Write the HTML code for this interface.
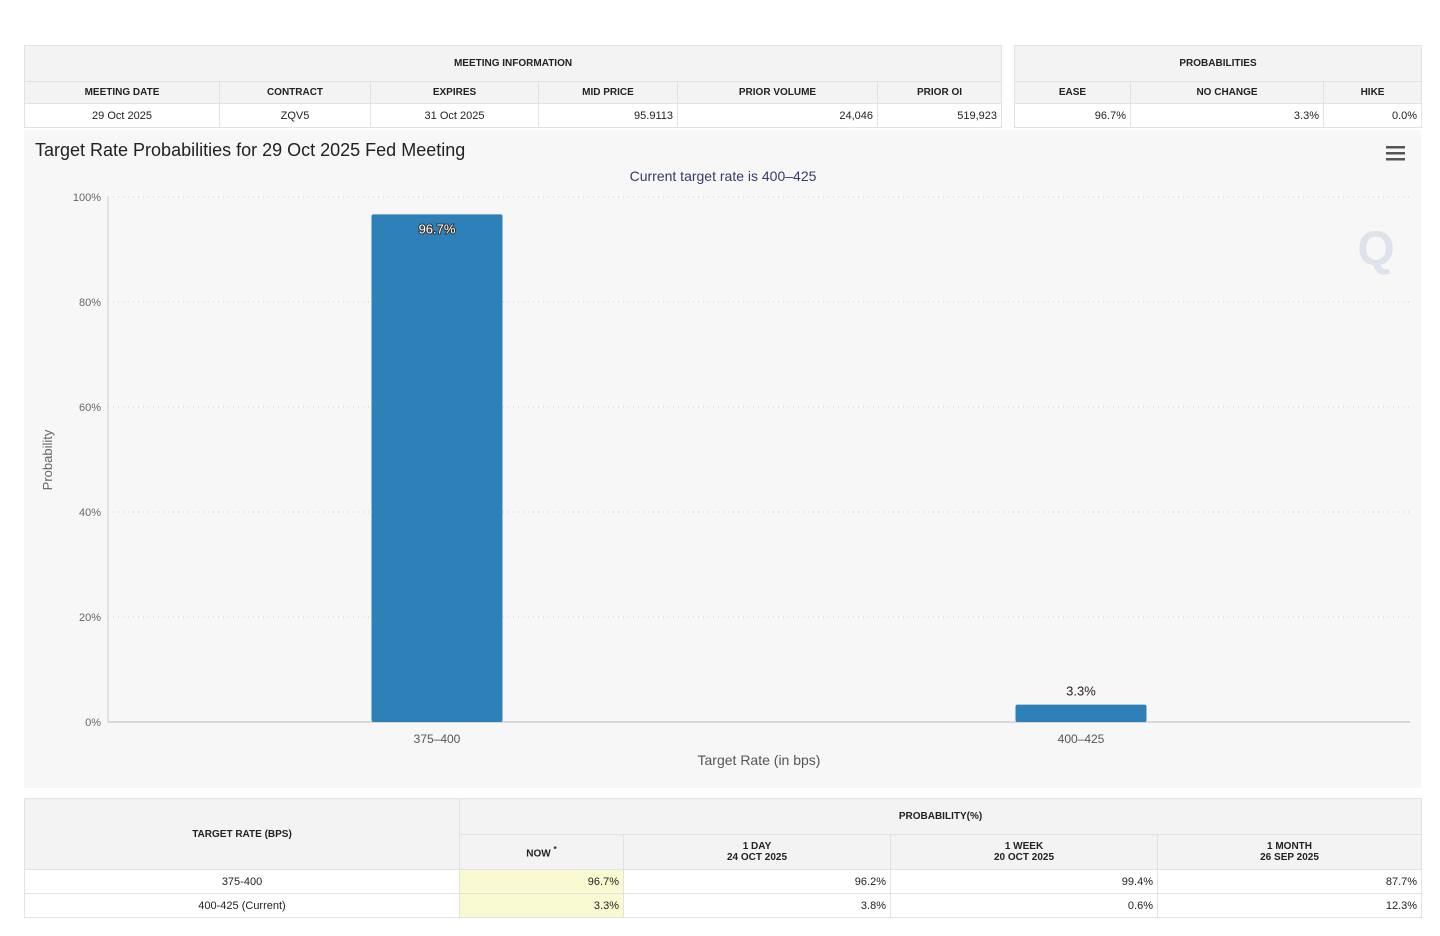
<!DOCTYPE html>
<html><head><meta charset="utf-8"><style>
body{margin:0;width:1440px;height:936px;background:#fff;font-family:"Liberation Sans",Arial,sans-serif;position:relative;overflow:hidden}
table{position:absolute;border-collapse:collapse;font-size:11px;color:#222;table-layout:fixed}
td,th{border:1px solid #e2e2e2;padding:0 4px;}
th{background:#f3f3f3;font-weight:bold;font-size:10px;text-align:center}
td.r{text-align:right}td.c{text-align:center}
.y{background:#fafad2}
</style></head><body>
<table style="left:24px;top:45px;width:978px">
<colgroup><col style="width:195px"><col style="width:151px"><col style="width:168px"><col style="width:139px"><col style="width:200px"><col style="width:124px"></colgroup>
<tr style="height:36px"><th colspan="6">MEETING INFORMATION</th></tr>
<tr style="height:22px"><th>MEETING DATE</th><th>CONTRACT</th><th>EXPIRES</th><th>MID PRICE</th><th>PRIOR VOLUME</th><th>PRIOR OI</th></tr>
<tr style="height:24px;background:#fff"><td class="c">29 Oct 2025</td><td class="c">ZQV5</td><td class="c">31 Oct 2025</td><td class="r">95.9113</td><td class="r">24,046</td><td class="r">519,923</td></tr>
</table>
<table style="left:1014px;top:45px;width:407px">
<colgroup><col style="width:116px"><col style="width:193px"><col style="width:98px"></colgroup>
<tr style="height:36px"><th colspan="3">PROBABILITIES</th></tr>
<tr style="height:22px"><th>EASE</th><th>NO CHANGE</th><th>HIKE</th></tr>
<tr style="height:24px"><td class="r">96.7%</td><td class="r">3.3%</td><td class="r">0.0%</td></tr>
</table>
<div style="position:absolute;left:24px;top:130px;width:1397px;height:658px;background:#f7f7f7"></div>
<svg style="position:absolute;left:0;top:0" width="1440" height="936" font-family="Liberation Sans, Arial, sans-serif">
<text x="35" y="156" font-size="18" fill="#222">Target Rate Probabilities for 29 Oct 2025 Fed Meeting</text>
<text x="723" y="181" font-size="14" fill="#333d66" text-anchor="middle">Current target rate is 400–425</text>
<g fill="#555"><rect x="1386" y="146" width="19" height="2.5"/><rect x="1386" y="152" width="19" height="2.5"/><rect x="1386" y="158" width="19" height="2.5"/></g>
<text x="1376" y="265" font-size="48" font-weight="bold" fill="#dde3ea" text-anchor="middle">Q</text>
<text transform="translate(52,460) rotate(-90)" font-size="13" fill="#666" text-anchor="middle">Probability</text>
<text x="759" y="765" font-size="14" fill="#555" text-anchor="middle">Target Rate (in bps)</text>
<g id="grid"></g><g id="bars"></g>
</svg>
<table style="left:24px;top:798px;width:1397px">
<colgroup><col style="width:435px"><col style="width:164px"><col style="width:267px"><col style="width:267px"><col style="width:264px"></colgroup>
<tr style="height:36px"><th rowspan="2">TARGET RATE (BPS)</th><th colspan="4">PROBABILITY(%)</th></tr>
<tr style="height:35px"><th>NOW <sup>*</sup></th><th>1 DAY<br>24 OCT 2025</th><th>1 WEEK<br>20 OCT 2025</th><th>1 MONTH<br>26 SEP 2025</th></tr>
<tr style="height:24px"><td class="c">375-400</td><td class="r y">96.7%</td><td class="r">96.2%</td><td class="r">99.4%</td><td class="r">87.7%</td></tr>
<tr style="height:24px"><td class="c">400-425 (Current)</td><td class="r y">3.3%</td><td class="r">3.8%</td><td class="r">0.6%</td><td class="r">12.3%</td></tr>
</table>
<script>
const categories=["375-400","400-425"];
const values=[96.7,3.3];
const labels=["96.7%","3.3%"];
const yTicks=[0,20,40,60,80,100];
const NS="http://www.w3.org/2000/svg";
const L=108,R=1410,T=197,B=722;
const y=v=>B-(v/100)*(B-T);
const band=(R-L)/categories.length;
const mid=(categories.length-1)/2;
const x=i=>L+band*(i+0.5)+(mid-i)*7;
const g=document.getElementById('grid'),b=document.getElementById('bars');
function mk(t,a,p){const e=document.createElementNS(NS,t);for(const k in a)e.setAttribute(k,a[k]);p.appendChild(e);return e;}
yTicks.forEach(v=>{
 const l=mk('line',{x1:L,x2:R,y1:y(v),y2:y(v),stroke:v?'#ccc':'#bbb','stroke-dasharray':v?'1,4':''},g);
 
 
 const t=mk('text',{x:101,y:y(v)+4,'font-size':11,fill:'#666','text-anchor':'end'},g);t.textContent=v+'%';
 
 
});
const ax=mk('line',{x1:L,x2:L,y1:T,y2:B,stroke:'#ccc'},g);


categories.forEach((c,i)=>{
 const w=131,cx=x(i);
 const r=mk('rect',{x:cx-w/2,y:y(values[i]),width:w,height:B-y(values[i]),fill:'#2e80b9',rx:2},b);
 
 
 const inside=values[i]>20;
 const t=mk('text',{x:cx,y:inside?y(values[i])+19:y(values[i])-9,'font-size':13,'text-anchor':'middle',fill:inside?'#fff':'#222',stroke:inside?'#333':'none','stroke-width':inside?2:0,'paint-order':'stroke'},b);
 t.textContent=labels[i];
 
 
 const xl=mk('text',{x:cx,y:B+21,'font-size':12,fill:'#555','text-anchor':'middle'},b);xl.textContent=c.replace('-','–');
 
 
});
</script>
</body></html>
